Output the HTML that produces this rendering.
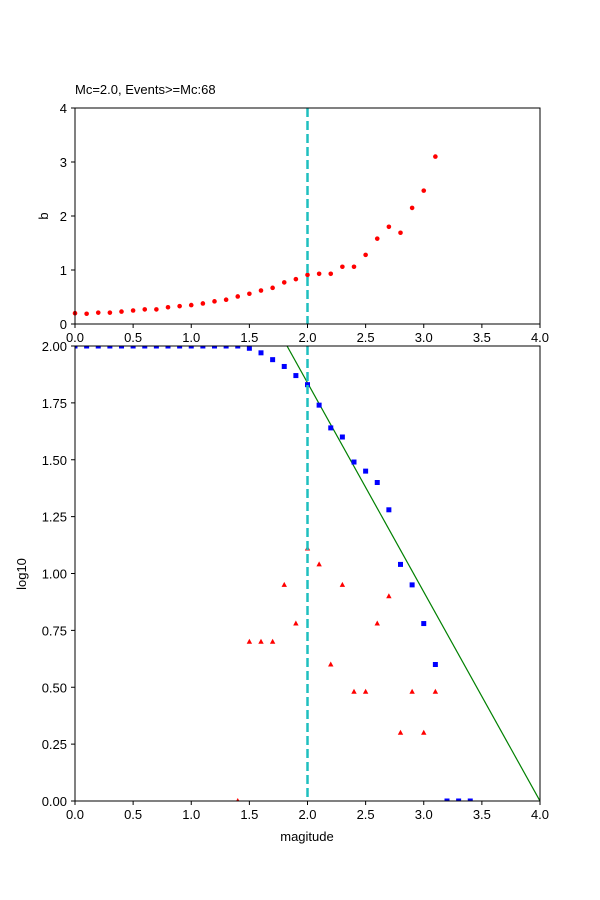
<!DOCTYPE html>
<html><head><meta charset="utf-8"><style>body{margin:0;background:#fff}svg{display:block}text{font-family:"Liberation Sans",sans-serif;font-size:13px;fill:#000}</style></head>
<body>
<svg id="s" width="600" height="900" xmlns="http://www.w3.org/2000/svg"></svg>
<script>
const s=document.getElementById('s');let h='';
const X=m=>75+m*116.25;
const Y1=v=>324-v*54;
const Y2=v=>801-v*227.5;
h+='<defs><clipPath id="c2"><rect x="75" y="346" width="465" height="455"/></clipPath></defs>';
// top axes
const b=[0.2,0.19,0.21,0.21,0.23,0.25,0.27,0.27,0.31,0.33,0.35,0.38,0.42,0.45,0.51,0.56,0.62,0.67,0.77,0.83,0.91,0.93,0.93,1.06,1.06,1.28,1.58,1.80,1.69,2.15,2.47,3.10];
b.forEach((v,i)=>{h+=`<circle cx="${X(i/10)}" cy="${Y1(v)}" r="2.3" fill="red"/>`});
h+=`<line x1="${X(2)}" y1="108" x2="${X(2)}" y2="324" stroke="#17becf" stroke-width="2.5" stroke-dasharray="9,4" style="stroke:#1fbfbf"/>`;
h+='<rect x="75" y="108" width="465" height="216" fill="none" stroke="#000" stroke-width="1"/>';
for(let i=0;i<=8;i++){const x=X(i*0.5);h+=`<line x1="${x}" y1="324" x2="${x}" y2="328" stroke="#000"/><text x="${x}" y="342" text-anchor="middle">${(i*0.5).toFixed(1)}</text>`;}
for(let i=0;i<=4;i++){const y=Y1(i);h+=`<line x1="71" y1="${y}" x2="75" y2="${y}" stroke="#000"/><text x="67" y="${y+5}" text-anchor="end">${i}</text>`;}
h+=`<text x="48" y="216" text-anchor="middle" transform="rotate(-90 48 216)">b</text>`;
h+=`<text x="75" y="94">Mc=2.0, Events&gt;=Mc:68</text>`;
// bottom axes
h+='<g clip-path="url(#c2)">';
h+=`<line x1="${X(1.824)}" y1="${Y2(2)}" x2="${X(4)}" y2="${Y2(0)}" stroke="green" stroke-width="1.2"/>`;
const bl=[[1.5,1.99],[1.6,1.97],[1.7,1.94],[1.8,1.91],[1.9,1.87],[2.0,1.83],[2.1,1.74],[2.2,1.64],[2.3,1.60],[2.4,1.49],[2.5,1.45],[2.6,1.40],[2.7,1.28],[2.8,1.04],[2.9,0.95],[3.0,0.78],[3.1,0.60],[3.2,0],[3.3,0],[3.4,0]];
for(let i=0;i<15;i++)bl.unshift([0,2]),bl[0][0]=(14-i)/10;
bl.forEach(([m,v])=>{h+=`<rect x="${X(m)-2.5}" y="${Y2(v)-2.5}" width="5" height="5" fill="blue"/>`});
const tr=[[1.4,0],[1.5,0.70],[1.6,0.70],[1.7,0.70],[1.8,0.95],[1.9,0.78],[2.0,1.11],[2.1,1.04],[2.2,0.60],[2.3,0.95],[2.4,0.48],[2.5,0.48],[2.6,0.78],[2.7,0.90],[2.8,0.30],[2.9,0.48],[3.0,0.30],[3.1,0.48]];
tr.forEach(([m,v])=>{const x=X(m),y=Y2(v);h+=`<polygon points="${x},${y-3} ${x-2.7},${y+2} ${x+2.7},${y+2}" fill="red"/>`});
h+='</g>';
h+=`<line x1="${X(2)}" y1="346" x2="${X(2)}" y2="801" stroke="#1fbfbf" stroke-width="2.5" stroke-dasharray="9,4"/>`;
h+='<rect x="75" y="346" width="465" height="455" fill="none" stroke="#000" stroke-width="1"/>';
for(let i=0;i<=8;i++){const x=X(i*0.5);h+=`<line x1="${x}" y1="801" x2="${x}" y2="805" stroke="#000"/><text x="${x}" y="819" text-anchor="middle">${(i*0.5).toFixed(1)}</text>`;}
for(let i=0;i<=8;i++){const y=Y2(i*0.25);h+=`<line x1="71" y1="${y}" x2="75" y2="${y}" stroke="#000"/><text x="67" y="${y+5}" text-anchor="end">${(i*0.25).toFixed(2)}</text>`;}
h+=`<text x="307" y="841" text-anchor="middle">magitude</text>`;
h+=`<text x="26" y="574" text-anchor="middle" transform="rotate(-90 26 574)">log10</text>`;
s.innerHTML=h;
</script>
</body></html>
